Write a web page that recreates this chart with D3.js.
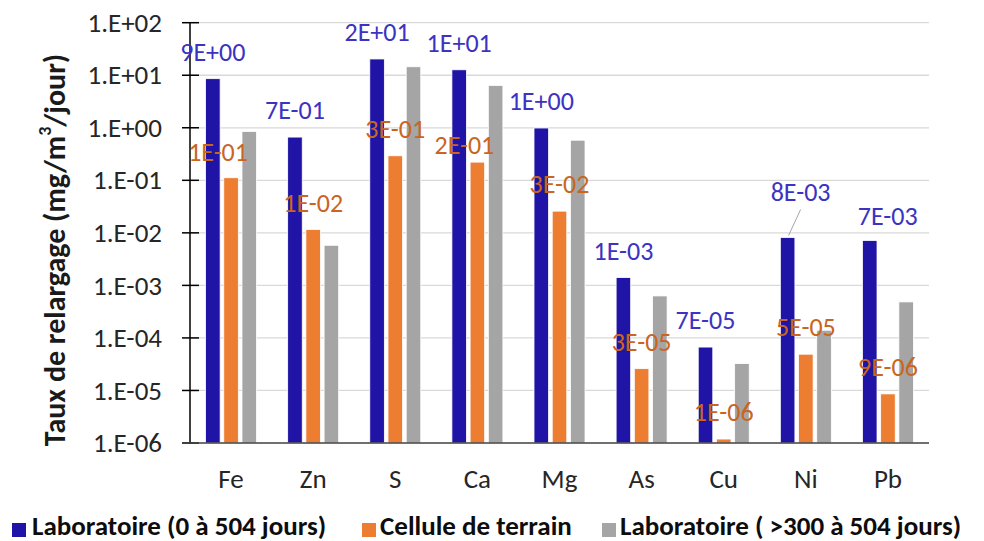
<!DOCTYPE html>
<html>
<head>
<meta charset="utf-8">
<script src="https://cdn.jsdelivr.net/npm/d3@7"></script>
<style>
  html, body { margin: 0; padding: 0; background: #fff; }
  svg { display: block; font-family: Carlito, Lato, "Liberation Sans", sans-serif; }
</style>
</head>
<body>
<svg id="chart" width="984" height="541"></svg>
<script>
// ---- data ----
const categories = ["Fe", "Zn", "S", "Ca", "Mg", "As", "Cu", "Ni", "Pb"];
const seriesNames = ["Laboratoire (0 à 504 jours)", "Cellule de terrain", "Laboratoire ( >300 à 504 jours)"];
const labo0_504   = [8.6, 0.665, 20.4, 12.7, 0.99, 0.00141, 6.7e-5, 0.00817, 0.00716];
const cellule     = [0.112, 0.0116, 0.293, 0.222, 0.0259, 2.6e-5, 1.19e-6, 4.9e-5, 8.6e-6];
const labo300_504 = [0.85, 0.0058, 14.5, 6.4, 0.58, 6.3e-4, 3.25e-5, 1.4e-4, 4.85e-4];
const tickValues  = [1e2, 1e1, 1e0, 1e-1, 1e-2, 1e-3, 1e-4, 1e-5, 1e-6];
const tickLabels  = ["1.E+02", "1.E+01", "1.E+00", "1.E-01", "1.E-02", "1.E-03", "1.E-04", "1.E-05", "1.E-06"];
const colors = ["#1F14A6", "#ED7D31", "#A5A5A5"];
const labelColors = ["#3C33C2", "#C9651F"];

const seriesValues = [labo0_504, cellule, labo300_504];

// ---- layout ----
const svg = d3.select("#chart");
const plot = { left: 190, right: 929, top: 22.7, bottom: 443 };

const x0 = d3.scaleBand().domain(categories).range([plot.left, plot.right])
  .paddingInner(0.379).paddingOuter(0.1895);
const x1 = d3.scaleBand().domain(d3.range(3)).range([0, x0.bandwidth()]).paddingInner(0.2);
const y = d3.scaleLog().domain([1e-6, 1e2]).range([plot.bottom, plot.top]);

// gridlines
svg.append("g").selectAll("line").data(tickValues.slice(0, -1)).join("line")
  .attr("x1", plot.left).attr("x2", plot.right)
  .attr("y1", d => y(d)).attr("y2", d => y(d))
  .attr("stroke", "#d9d9d9").attr("stroke-width", 1.3);

// bars
const groups = svg.append("g").selectAll("g").data(categories).join("g")
  .attr("transform", d => `translate(${x0(d)},0)`);
groups.selectAll("rect")
  .data((c, i) => seriesValues.map((vals, s) => ({ s, v: vals[i] })))
  .join("rect")
  .attr("x", d => x1(d.s))
  .attr("width", x1.bandwidth())
  .attr("y", d => y(d.v))
  .attr("height", d => y(1e-6) - y(d.v))
  .attr("fill", d => colors[d.s])
  .attr("stroke", "#ffffff").attr("stroke-width", 0.8);

// y axis
const yAxis = d3.axisLeft(y).tickValues(tickValues)
  .tickFormat((d, i) => tickLabels[i]).tickSize(0).tickPadding(28);
const yg = svg.append("g").attr("transform", `translate(${plot.left},0)`).call(yAxis);
yg.select(".domain").remove();
yg.selectAll("text").attr("font-size", 27).attr("fill", "#262626")
  .attr("font-family", "Carlito, Lato, sans-serif");
svg.append("line").attr("x1", plot.left).attr("x2", plot.left)
  .attr("y1", plot.top).attr("y2", plot.bottom).attr("stroke", "#000").attr("stroke-width", 1.5);
svg.append("g").selectAll("line").data(tickValues).join("line")
  .attr("x1", plot.left - 8).attr("x2", plot.left + 9)
  .attr("y1", d => y(d)).attr("y2", d => y(d))
  .attr("stroke", "#000").attr("stroke-width", 1.5);

// x axis
svg.append("line").attr("x1", plot.left - 8).attr("x2", plot.right)
  .attr("y1", plot.bottom).attr("y2", plot.bottom).attr("stroke", "#404040").attr("stroke-width", 1.5);
const xAxis = d3.axisBottom(x0).tickSize(0).tickPadding(26);
const xg = svg.append("g").attr("transform", `translate(0,${plot.bottom})`).call(xAxis);
xg.select(".domain").remove();
xg.selectAll("text").attr("font-size", 27).attr("fill", "#262626")
  .attr("font-family", "Carlito, Lato, sans-serif");

// y title
svg.append("text")
  .attr("transform", `translate(58,250) rotate(-90)`)
  .attr("text-anchor", "middle").attr("dominant-baseline", "middle")
  .attr("font-size", 30).attr("font-weight", "bold").attr("fill", "#1a1a1a")
  .html('Taux de relargage (mg/m<tspan baseline-shift="super" font-size="18">3</tspan>/jour)');

// data labels (manual nudges for a few labels, as in the original)
const labelNudge = {
  "0-Ni": { dx: 13, gap: 46, leader: true },
  "0-Pb": { dx: 18, gap: 25 },
  "1-Fe": { dx: -13, gap: 26 },
  "1-Ca": { dx: -13, gap: 17 }
};
const fmt = v => {
  const [m, e] = v.toExponential(0).split("e");
  const sign = e[0] === "-" ? "-" : "+";
  const ex = e.replace(/^[+-]/, "").padStart(2, "0");
  return `${m}E${sign}${ex}`;
};
[0, 1].forEach(s => {
  categories.forEach((c, i) => {
    const v = seriesValues[s][i];
    const cx = x0(c) + x1(s) + x1.bandwidth() / 2;
    const n = labelNudge[`${s}-${c}`] || { dx: 0, gap: 27 };
    const lx = cx + n.dx, ly = y(v) - n.gap;
    if (n.leader) {
      svg.append("line").attr("x1", lx).attr("y1", ly + 18).attr("x2", cx + 1).attr("y2", y(v) - 2)
        .attr("stroke", "#a6a6a6").attr("stroke-width", 1);
    }
    svg.append("text").attr("x", lx).attr("y", ly)
      .attr("text-anchor", "middle").attr("dy", "0.35em")
      .attr("font-size", 26).attr("fill", labelColors[s])
      .text(fmt(v));
  });
});

// legend
const legendItems = [
  { x: 12, tx: 32 },
  { x: 362, tx: 380 },
  { x: 602, tx: 620 }
];
const lg = svg.append("g");
seriesNames.forEach((name, s) => {
  lg.append("rect").attr("x", legendItems[s].x).attr("y", 523).attr("width", 14).attr("height", 14)
    .attr("fill", colors[s]);
  lg.append("text").attr("x", legendItems[s].tx).attr("y", 535)
    .attr("font-size", 27).attr("font-weight", "bold").attr("fill", "#0d0d0d")
    .text(name);
});
</script>
</body>
</html>
